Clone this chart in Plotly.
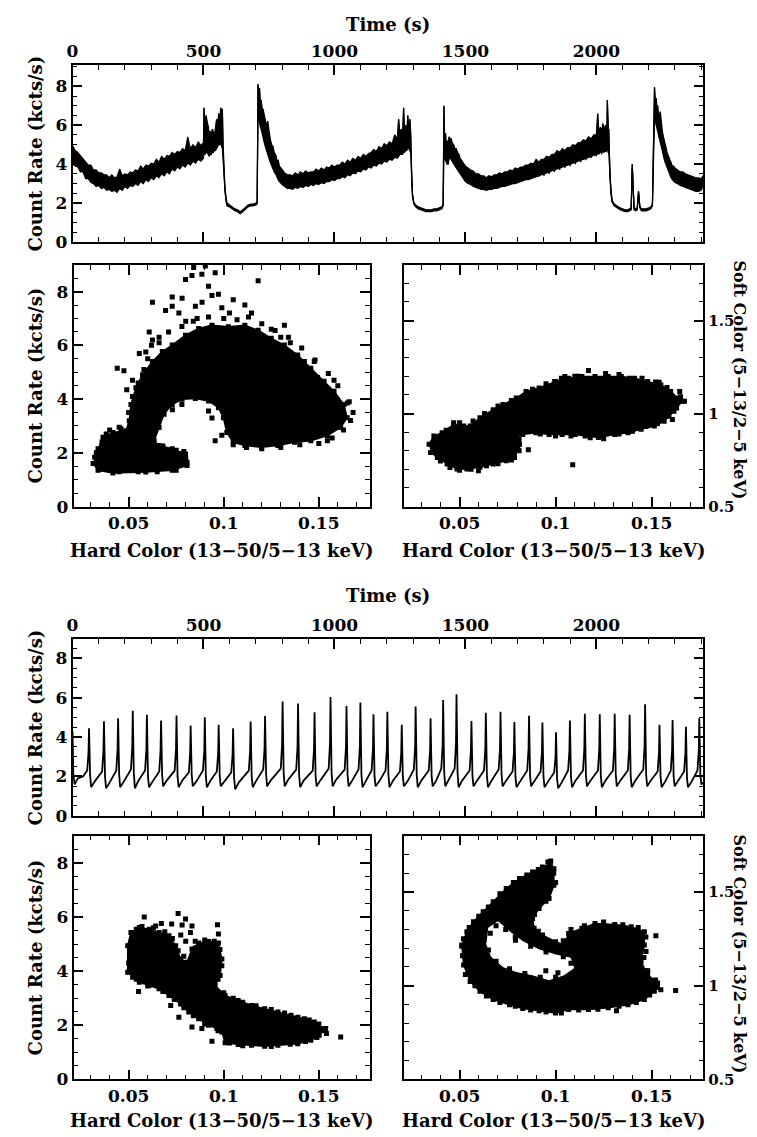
import plotly.graph_objects as go

W, H = 757, 1137
FONT = "DejaVu Serif"

# ---------------- top light curve (time s, count rate kcts/s) ----------------
lc1_time = [
    0, 10, 20, 30, 40, 50, 60, 70, 80, 90, 100, 110, 120, 130, 140, 150, 160, 170, 180, 190,
    200, 210, 220, 230, 240, 250, 260, 270, 280, 290, 300, 310, 320, 330, 340, 350, 360, 370, 380, 390,
    400, 410, 420, 430, 440, 450, 460, 470, 480, 490, 500,
    502, 506, 510, 514, 518, 522, 526, 530, 534, 538, 542, 546, 550, 554, 558, 562, 566, 569, 572, 575,
    578, 582, 586, 590, 600, 610, 620, 630, 640, 650, 660, 670, 680, 690, 700, 705,
    708, 711, 714, 717, 720, 724, 728, 732, 736, 740, 745, 750, 755, 760, 765, 770, 775, 780, 785, 790,
    795, 800, 805, 810, 815, 820,
    830, 840, 850, 860, 870, 880, 890, 900, 910, 920, 930, 940, 950, 960,
    970, 980, 990, 1000, 1010, 1020, 1030, 1040, 1050, 1060, 1070, 1080, 1090, 1100, 1110, 1120, 1130, 1140, 1150, 1160,
    1170, 1180, 1190, 1200, 1210, 1220, 1230, 1240,
    1245, 1250, 1255, 1260, 1264, 1268, 1272, 1276, 1280, 1284, 1288, 1292,
    1295, 1298, 1303, 1310, 1320, 1330, 1340, 1350, 1360, 1370, 1380, 1390, 1400, 1410, 1415,
    1418, 1421, 1424, 1427, 1430, 1434, 1438, 1442, 1446, 1450, 1455, 1460, 1465, 1470, 1475, 1480, 1485, 1490, 1495, 1500,
    1510, 1520, 1530, 1540, 1550, 1560, 1570, 1580, 1590, 1600, 1610, 1620, 1630, 1640, 1650, 1660, 1670, 1680, 1690, 1700,
    1710, 1720, 1730, 1740, 1750, 1760, 1770, 1780, 1790, 1800, 1810, 1820, 1830, 1840, 1850, 1860, 1870, 1880, 1890, 1900,
    1910, 1920, 1930, 1940, 1950, 1960, 1970, 1980, 1990, 2000,
    2005, 2010, 2015, 2020, 2025, 2030, 2035, 2040, 2042, 2045, 2048,
    2051, 2055, 2060, 2068, 2080, 2090, 2100, 2110, 2120, 2128, 2133, 2137, 2140, 2144, 2150, 2156, 2161, 2166, 2172, 2180,
    2190, 2200, 2208, 2214,
    2218, 2222, 2225, 2228, 2231, 2234, 2237, 2240, 2244, 2248, 2252, 2256, 2260, 2265, 2270, 2275, 2280, 2285, 2290, 2295,
    2300,
    2310, 2320, 2330, 2340, 2350, 2360, 2370, 2380, 2390, 2400, 2408,
]
# individual samples (noisy trace)
lc1_rate = [
    4.9, 4.1, 4.5, 3.7, 4.2, 3.4, 3.9, 3.2, 3.6, 2.95, 3.5, 2.85, 3.4, 2.8, 3.3, 2.7, 3.25, 2.65, 3.6, 2.8,
    3.4, 2.85, 3.5, 2.9, 3.55, 3.0, 3.7, 3.1, 3.8, 3.2, 3.85, 3.3, 4.0, 3.35, 4.2, 3.5, 4.2, 3.7, 4.4, 3.8,
    4.5, 3.9, 4.6, 4.0, 5.3, 4.1, 4.8, 4.25, 5.0, 4.4, 5.0,
    6.9, 4.6, 6.5, 4.7, 6.0, 4.5, 5.6, 4.6, 5.8, 4.7, 5.4, 4.8, 6.3, 5.0, 6.6, 5.2, 6.9, 5.0, 6.8, 4.5,
    3.5, 2.7, 2.2, 1.9, 1.85, 1.75, 1.65, 1.6, 1.5, 1.6, 1.75, 1.85, 1.9, 1.9, 1.95, 2.0,
    8.1, 6.8, 7.9, 6.3, 7.3, 5.9, 6.8, 5.4, 6.3, 5.0, 6.2, 4.7, 5.3, 4.3, 4.9, 4.0, 4.5, 3.7, 4.2, 3.4,
    3.8, 3.1, 3.6, 2.9, 3.4, 2.8,
    3.4, 2.8, 3.4, 2.9, 3.5, 2.9, 3.5, 2.95, 3.5, 3.0, 3.6, 3.0, 3.6, 3.1,
    3.7, 3.15, 3.8, 3.2, 3.85, 3.3, 3.9, 3.35, 4.0, 3.4, 4.1, 3.5, 4.2, 3.6, 4.3, 3.7, 4.4, 3.8, 4.6, 3.95,
    4.8, 4.1, 5.0, 4.2, 5.1, 4.3, 5.5, 4.4,
    6.3, 4.5, 5.8, 4.6, 6.9, 4.7, 6.0, 4.8, 6.5, 4.9, 6.3, 4.8,
    3.2, 2.4, 2.0, 1.85, 1.75, 1.7, 1.65, 1.6, 1.6, 1.6, 1.65, 1.65, 1.7, 1.75, 1.9,
    7.0, 4.6, 5.6, 4.2, 5.2, 4.0, 5.4, 4.5, 5.3, 4.4, 5.0, 4.1, 4.8, 3.9, 4.5, 3.7, 4.2, 3.5, 4.0, 3.3,
    3.8, 3.1, 3.6, 2.9, 3.45, 2.8, 3.35, 2.75, 3.3, 2.8, 3.4, 2.85, 3.45, 2.9, 3.5, 2.95, 3.6, 3.0, 3.7, 3.1,
    3.75, 3.15, 3.8, 3.2, 3.9, 3.3, 4.1, 3.35, 4.0, 3.4, 4.2, 3.5, 4.3, 3.6, 4.5, 3.7, 4.6, 3.8, 4.5, 3.9,
    4.8, 4.0, 4.9, 4.1, 5.0, 4.2, 5.2, 4.3, 5.3, 4.4,
    6.6, 4.5, 5.8, 4.5, 6.0, 4.6, 5.9, 4.6, 7.3, 4.7, 5.8,
    3.5, 2.6, 2.1, 1.9, 1.8, 1.7, 1.65, 1.6, 1.6, 1.65, 1.7, 4.0, 2.5, 1.7, 1.65, 1.7, 2.6, 1.8, 1.65, 1.65,
    1.65, 1.7, 1.75, 1.9,
    5.5, 7.95, 6.8, 7.4, 6.2, 7.0, 5.8, 6.5, 5.5, 6.0, 4.9, 5.4, 4.4, 4.9, 3.9, 4.4, 3.6, 4.1, 3.3, 3.9,
    3.2,
    3.7, 3.0, 3.6, 2.9, 3.4, 2.8, 3.3, 2.7, 3.2, 2.8, 3.2,
]
# upper / lower edge of the noise band at the same times
lc1_high = [
    4.95, 4.7, 4.6, 4.45, 4.3, 4.15, 3.95, 3.95, 3.7, 3.7, 3.55, 3.55, 3.45, 3.45, 3.3, 3.45, 3.3, 3.35, 3.75, 3.4,
    3.5, 3.45, 3.6, 3.55, 3.7, 3.65, 3.9, 3.75, 3.95, 3.9, 4.05, 4.0, 4.25, 4.1, 4.4, 4.25, 4.45, 4.4, 4.6, 4.5,
    4.65, 4.6, 4.8, 4.7, 5.4, 4.8, 5.0, 4.85, 5.15, 4.95, 5.1,
    6.9, 5.8, 6.5, 6.2, 5.9, 5.6, 5.7, 5.5, 5.8, 5.6, 5.5, 5.9, 6.3, 6.0, 6.6, 6.3, 6.9, 6.5, 6.85, 5.0,
    3.6, 2.8, 2.3, 2.0, 1.9, 1.8, 1.7, 1.65, 1.55, 1.65, 1.8, 1.9, 1.95, 1.95, 2.0, 2.05,
    8.1, 7.6, 7.9, 7.2, 7.3, 6.9, 6.8, 6.5, 6.3, 6.0, 6.2, 5.6, 5.3, 5.0, 4.9, 4.6, 4.5, 4.2, 4.2, 3.9,
    3.8, 3.7, 3.6, 3.55, 3.5, 3.45,
    3.45, 3.4, 3.55, 3.45, 3.6, 3.5, 3.65, 3.55, 3.6, 3.6, 3.75, 3.65, 3.8, 3.7,
    3.85, 3.8, 3.95, 3.85, 3.95, 3.95, 4.1, 4.0, 4.2, 4.1, 4.3, 4.2, 4.4, 4.3, 4.5, 4.4, 4.55, 4.6, 4.75, 4.65,
    4.9, 4.8, 5.05, 4.95, 5.15, 5.05, 5.5, 5.3,
    6.3, 5.6, 5.8, 5.5, 6.9, 5.7, 6.0, 5.6, 6.5, 5.8, 6.3, 5.5,
    3.3, 2.5, 2.05, 1.9, 1.8, 1.75, 1.7, 1.65, 1.65, 1.65, 1.7, 1.7, 1.75, 1.8, 1.95,
    7.0, 5.2, 5.6, 5.0, 5.2, 5.1, 5.4, 5.3, 5.3, 5.1, 5.0, 4.8, 4.8, 4.6, 4.5, 4.3, 4.2, 4.1, 4.0, 3.9,
    3.8, 3.7, 3.65, 3.5, 3.5, 3.4, 3.4, 3.3, 3.4, 3.35, 3.45, 3.45, 3.55, 3.5, 3.6, 3.6, 3.7, 3.65, 3.8, 3.75,
    3.85, 3.85, 3.95, 3.95, 4.05, 4.0, 4.25, 4.1, 4.25, 4.25, 4.4, 4.35, 4.5, 4.5, 4.7, 4.6, 4.8, 4.7, 4.85, 4.85,
    5.0, 4.95, 5.1, 5.1, 5.25, 5.2, 5.4, 5.3, 5.5, 5.5,
    6.6, 5.6, 5.9, 5.7, 6.1, 5.8, 6.0, 5.9, 7.3, 6.0, 5.8,
    3.6, 2.7, 2.15, 1.95, 1.85, 1.75, 1.7, 1.65, 1.65, 1.7, 1.75, 4.0, 2.5, 1.75, 1.7, 1.75, 2.6, 1.85, 1.7, 1.7,
    1.7, 1.75, 1.8, 1.95,
    5.5, 7.95, 7.3, 7.4, 7.0, 7.0, 6.6, 6.5, 6.7, 6.1, 5.7, 5.4, 5.1, 4.9, 4.6, 4.4, 4.2, 4.1, 3.9, 3.9,
    3.8,
    3.7, 3.6, 3.6, 3.5, 3.45, 3.4, 3.35, 3.3, 3.3, 3.25, 3.4,
]
lc1_low = [
    4.0, 3.9, 3.85, 3.6, 3.6, 3.25, 3.25, 3.05, 3.0, 2.85, 2.9, 2.75, 2.8, 2.65, 2.7, 2.6, 2.65, 2.55, 2.75, 2.65,
    2.85, 2.75, 2.9, 2.85, 3.0, 2.9, 3.1, 3.0, 3.2, 3.1, 3.3, 3.2, 3.4, 3.3, 3.5, 3.4, 3.6, 3.5, 3.75, 3.65,
    3.85, 3.75, 3.95, 3.85, 4.05, 3.95, 4.15, 4.05, 4.25, 4.15, 4.3,
    4.6, 4.5, 4.6, 4.6, 4.5, 4.4, 4.5, 4.5, 4.6, 4.6, 4.7, 4.7, 4.8, 4.9, 5.0, 5.0, 5.1, 4.9, 4.8, 4.2,
    3.4, 2.6, 2.1, 1.85, 1.8, 1.7, 1.6, 1.55, 1.45, 1.55, 1.7, 1.8, 1.85, 1.85, 1.9, 1.95,
    6.6, 6.3, 6.0, 5.9, 5.8, 5.5, 5.3, 5.1, 4.9, 4.7, 4.5, 4.3, 4.1, 3.9, 3.8, 3.6, 3.5, 3.3, 3.2, 3.1,
    3.0, 2.95, 2.9, 2.85, 2.8, 2.75,
    2.75, 2.7, 2.8, 2.75, 2.85, 2.8, 2.9, 2.85, 2.95, 2.9, 3.0, 2.95, 3.05, 3.0,
    3.1, 3.1, 3.2, 3.15, 3.25, 3.25, 3.35, 3.3, 3.45, 3.4, 3.55, 3.5, 3.65, 3.6, 3.75, 3.7, 3.85, 3.8, 3.95, 3.9,
    4.05, 4.0, 4.15, 4.1, 4.25, 4.2, 4.35, 4.3,
    4.4, 4.5, 4.5, 4.5, 4.6, 4.6, 4.7, 4.7, 4.8, 4.8, 4.7, 4.5,
    3.1, 2.3, 1.95, 1.8, 1.7, 1.65, 1.6, 1.55, 1.55, 1.55, 1.6, 1.6, 1.65, 1.7, 1.85,
    4.5, 4.3, 4.2, 4.1, 4.0, 4.0, 4.3, 4.3, 4.2, 4.1, 4.0, 3.9, 3.8, 3.7, 3.6, 3.5, 3.4, 3.3, 3.2, 3.1,
    3.0, 2.95, 2.85, 2.8, 2.75, 2.7, 2.7, 2.65, 2.7, 2.7, 2.75, 2.75, 2.8, 2.85, 2.85, 2.9, 2.95, 3.0, 3.0, 3.05,
    3.1, 3.15, 3.2, 3.2, 3.25, 3.3, 3.35, 3.4, 3.45, 3.5, 3.55, 3.6, 3.65, 3.7, 3.75, 3.8, 3.85, 3.9, 3.95, 4.0,
    4.05, 4.1, 4.15, 4.2, 4.25, 4.3, 4.35, 4.4, 4.45, 4.5,
    4.5, 4.55, 4.6, 4.6, 4.6, 4.65, 4.65, 4.7, 4.7, 4.7, 4.5,
    3.4, 2.5, 2.05, 1.85, 1.75, 1.65, 1.6, 1.55, 1.55, 1.6, 1.65, 3.8, 2.3, 1.65, 1.6, 1.65, 2.5, 1.75, 1.6, 1.6,
    1.6, 1.65, 1.7, 1.85,
    5.0, 6.3, 6.2, 6.0, 5.9, 5.7, 5.5, 5.3, 5.1, 4.9, 4.6, 4.4, 4.2, 4.0, 3.8, 3.6, 3.5, 3.3, 3.2, 3.1,
    3.05,
    3.0, 2.9, 2.85, 2.8, 2.75, 2.7, 2.65, 2.6, 2.6, 2.65, 2.9,
]

# ---------------- bottom light curve ----------------
lc2_time = [
    0, 3, 8, 20, 40,
    56, 61, 63, 67, 71, 85,
    113, 118, 120, 124, 128, 142,
    167, 172, 174, 178, 182, 196,
    223, 228, 230, 234, 238, 252,
    277, 282, 284, 288, 292, 306,
    331, 336, 338, 342, 346, 360,
    390, 395, 397, 401, 405, 419,
    444, 449, 451, 455, 459, 473,
    498, 503, 505, 509, 513, 527,
    551, 556, 558, 562, 566, 580,
    606, 611, 613, 617, 621, 635,
    673, 678, 680, 684, 688, 702,
    728, 733, 735, 739, 743, 757,
    795, 800, 802, 806, 810, 824,
    854, 859, 861, 865, 869, 883,
    917, 922, 924, 928, 932, 946,
    978, 983, 985, 989, 993, 1007,
    1039, 1044, 1046, 1050, 1054, 1068,
    1092, 1097, 1099, 1103, 1107, 1121,
    1142, 1147, 1149, 1153, 1157, 1171,
    1195, 1200, 1202, 1206, 1210, 1224,
    1250, 1255, 1257, 1261, 1265, 1279,
    1303, 1308, 1310, 1314, 1318, 1332,
    1360, 1365, 1367, 1371, 1375, 1389,
    1408, 1413, 1415, 1419, 1423, 1437,
    1459, 1464, 1466, 1470, 1474, 1488,
    1516, 1521, 1523, 1527, 1531, 1545,
    1571, 1576, 1578, 1582, 1586, 1600,
    1627, 1632, 1634, 1638, 1642, 1656,
    1680, 1685, 1687, 1691, 1695, 1709,
    1736, 1741, 1743, 1747, 1751, 1765,
    1787, 1792, 1794, 1798, 1802, 1816,
    1839, 1844, 1846, 1850, 1854, 1868,
    1892, 1897, 1899, 1903, 1907, 1921,
    1949, 1954, 1956, 1960, 1964, 1978,
    2006, 2011, 2013, 2017, 2021, 2035,
    2063, 2068, 2070, 2074, 2078, 2092,
    2120, 2125, 2127, 2131, 2135, 2149,
    2179, 2184, 2186, 2190, 2194, 2208,
    2234, 2239, 2241, 2245, 2249, 2263,
    2284, 2289, 2291, 2295, 2299, 2313,
    2335, 2340, 2342, 2346, 2350, 2364,
    2386, 2391, 2393, 2397, 2401, 2409,
]
lc2_rate = [
    4.3, 2.1, 1.6, 1.9, 2.0,
    2.3, 3.2, 4.45, 2.1, 1.45, 1.75,
    2.25, 3.3, 4.8, 2.0, 1.4, 1.7,
    2.3, 3.4, 4.96, 2.1, 1.45, 1.75,
    2.35, 3.5, 5.33, 2.2, 1.4, 1.8,
    2.3, 3.4, 5.13, 2.0, 1.45, 1.75,
    2.25, 3.3, 4.84, 2.1, 1.5, 1.8,
    2.3, 3.4, 5.09, 2.0, 1.45, 1.8,
    2.2, 3.2, 4.59, 2.1, 1.5, 1.75,
    2.3, 3.3, 5.0, 2.0, 1.45, 1.8,
    2.25, 3.2, 4.62, 2.0, 1.5, 1.75,
    2.2, 3.1, 4.45, 1.9, 1.35, 1.7,
    2.3, 3.3, 4.79, 2.0, 1.45, 1.8,
    2.35, 3.4, 5.07, 2.1, 1.5, 1.8,
    2.4, 3.6, 5.8, 2.2, 1.5, 1.85,
    2.35, 3.5, 5.7, 2.1, 1.45, 1.8,
    2.3, 3.4, 5.26, 2.0, 1.5, 1.8,
    2.4, 3.7, 6.03, 2.2, 1.5, 1.85,
    2.35, 3.5, 5.58, 2.1, 1.5, 1.8,
    2.35, 3.5, 5.76, 2.1, 1.45, 1.8,
    2.3, 3.4, 5.16, 2.0, 1.5, 1.75,
    2.3, 3.4, 5.29, 2.1, 1.45, 1.8,
    2.25, 3.2, 4.62, 2.0, 1.5, 1.75,
    2.35, 3.5, 5.55, 2.1, 1.45, 1.8,
    2.3, 3.3, 4.96, 2.0, 1.5, 1.8,
    2.4, 3.6, 5.88, 2.2, 1.5, 1.85,
    2.4, 3.7, 6.17, 2.2, 1.45, 1.8,
    2.3, 3.3, 4.82, 2.0, 1.5, 1.8,
    2.3, 3.4, 5.24, 2.1, 1.45, 1.8,
    2.35, 3.4, 5.29, 2.1, 1.5, 1.8,
    2.25, 3.2, 4.76, 2.0, 1.45, 1.75,
    2.3, 3.4, 5.08, 2.0, 1.5, 1.8,
    2.25, 3.2, 4.74, 2.0, 1.45, 1.75,
    2.2, 3.0, 4.24, 1.9, 1.4, 1.7,
    2.3, 3.3, 4.84, 2.0, 1.45, 1.8,
    2.3, 3.4, 5.18, 2.1, 1.5, 1.8,
    2.3, 3.4, 5.16, 2.0, 1.45, 1.8,
    2.3, 3.4, 5.18, 2.1, 1.5, 1.8,
    2.3, 3.4, 5.13, 2.0, 1.45, 1.8,
    2.35, 3.5, 5.66, 2.1, 1.5, 1.8,
    2.25, 3.2, 4.62, 2.0, 1.45, 1.75,
    2.3, 3.3, 4.86, 2.0, 1.5, 1.8,
    2.25, 3.2, 4.52, 1.9, 1.45, 1.75,
    2.3, 3.3, 4.96, 2.1, 1.6, 1.7,
]

# ---------------- top-left: count rate vs hard colour ----------------
cd1_core_hc = [0.0321, 0.0339, 0.0365, 0.0417, 0.0486, 0.0503, 0.0512, 0.0538, 0.0573, 0.0625, 0.0677,
               0.0729, 0.0799, 0.0868, 0.0938, 0.1024, 0.1111, 0.1181, 0.1250, 0.1319, 0.1389, 0.1458,
               0.1528, 0.1580, 0.1632, 0.1649, 0.1615, 0.1545, 0.1458, 0.1372, 0.1285, 0.1198, 0.1111,
               0.1050, 0.1016, 0.0998, 0.0972, 0.0920, 0.0851, 0.0781, 0.0729, 0.0686, 0.0660, 0.0634,
               0.0660, 0.0729, 0.0799, 0.0807, 0.0729, 0.0590, 0.0417, 0.0339, 0.0313]
cd1_core_rate = [1.84, 2.15, 2.58, 2.76, 2.82, 3.19, 3.80, 4.42, 4.91, 5.40, 5.77,
                 6.01, 6.38, 6.63, 6.75, 6.69, 6.75, 6.56, 6.26, 6.01, 5.64, 5.15,
                 4.66, 4.29, 3.80, 3.31, 2.94, 2.64, 2.45, 2.39, 2.27, 2.21, 2.27,
                 2.39, 2.76, 3.31, 3.68, 3.93, 4.02, 3.99, 3.80, 3.44, 2.94, 2.45,
                 2.27, 2.15, 1.96, 1.53, 1.35, 1.29, 1.25, 1.35, 1.60]
cd1_edge_hc = [0.062, 0.066, 0.071, 0.078, 0.084, 0.092, 0.100, 0.107, 0.113, 0.120, 0.127, 0.134, 0.141,
               0.148, 0.155, 0.160, 0.166, 0.168, 0.163, 0.157, 0.150, 0.140, 0.130, 0.120, 0.112, 0.105,
               0.033, 0.036, 0.040, 0.045, 0.035, 0.045, 0.055, 0.065, 0.075, 0.080, 0.079, 0.075,
               0.050, 0.052, 0.055, 0.058, 0.060]
cd1_edge_rate = [6.0, 6.3, 6.5, 6.7, 6.9, 7.05, 7.0, 6.95, 7.05, 6.8, 6.55, 6.3, 5.9,
                 5.45, 4.95, 4.5, 3.9, 3.5, 2.85, 2.55, 2.35, 2.3, 2.2, 2.15, 2.2, 2.3,
                 2.0, 2.4, 2.85, 2.95, 1.4, 1.3, 1.3, 1.3, 1.35, 1.8, 2.05, 2.1,
                 3.5, 4.1, 4.6, 5.1, 5.5]
cd1_pts_hc = [0.0842, 0.0903, 0.0799, 0.0833, 0.0885, 0.0920, 0.0955, 0.1181, 0.0938, 0.0972, 0.1050,
              0.0729, 0.0781, 0.0625, 0.0694, 0.0729, 0.0764, 0.0851, 0.0886, 0.1319, 0.1111, 0.1146,
              0.0608, 0.0440, 0.0475, 0.0490, 0.0556, 0.0590, 0.0660, 0.0625, 0.0920, 0.0938, 0.0955,
              0.0990, 0.0807, 0.1424, 0.1476, 0.1493, 0.1580, 0.1650, 0.1667, 0.1545, 0.0556, 0.0590,
              0.0680, 0.0520, 0.0540, 0.0700, 0.0730, 0.0460, 0.0382, 0.0347, 0.1380, 0.1250, 0.1300,
              0.1350, 0.1030, 0.0990, 0.0860, 0.0800, 0.1580, 0.1610, 0.0780, 0.0575]
cd1_pts_rate = [8.9, 8.95, 8.45, 8.6, 8.65, 8.2, 8.7, 8.4, 7.85, 7.9, 7.7,
                7.8, 7.75, 7.6, 7.3, 7.45, 7.2, 7.45, 7.6, 6.75, 7.5, 7.2,
                6.5, 5.15, 5.05, 4.35, 5.7, 5.75, 6.1, 6.2, 3.56, 3.3, 2.45,
                2.65, 1.65, 5.4, 5.4, 4.8, 4.7, 3.85, 3.2, 2.45, 3.45, 2.9,
                2.25, 4.7, 4.0, 4.3, 3.6, 2.9, 2.7, 1.75, 5.2, 6.6, 6.3,
                6.1, 7.2, 7.4, 7.0, 6.9, 3.0, 3.5, 3.8, 3.0]

# ---------------- top-right: soft colour vs hard colour ----------------
cc1_core_hc = [0.0341, 0.0366, 0.0409, 0.0469, 0.0521, 0.0555, 0.0606, 0.0675, 0.0726, 0.0795, 0.0846,
               0.0914, 0.1000, 0.1068, 0.1137, 0.1205, 0.1274, 0.1342, 0.1411, 0.1479, 0.1548, 0.1599,
               0.1634, 0.1659, 0.1616, 0.1565, 0.1514, 0.1445, 0.1377, 0.1308, 0.1223, 0.1154, 0.1103,
               0.1034, 0.0966, 0.0897, 0.0829, 0.0795, 0.0803, 0.0786, 0.0743, 0.0675, 0.0606, 0.0538,
               0.0486, 0.0435, 0.0384, 0.0349]
cc1_core_sc = [0.835, 0.879, 0.897, 0.941, 0.933, 0.933, 0.977, 1.021, 1.048, 1.083, 1.119,
               1.137, 1.172, 1.190, 1.199, 1.199, 1.199, 1.199, 1.190, 1.172, 1.154, 1.119,
               1.083, 1.066, 1.012, 0.959, 0.933, 0.915, 0.897, 0.888, 0.871, 0.879, 0.888,
               0.888, 0.888, 0.897, 0.888, 0.871, 0.817, 0.764, 0.746, 0.729, 0.711, 0.702,
               0.702, 0.729, 0.764, 0.791]
cc1_edge_hc = [0.036, 0.038, 0.043, 0.050, 0.057, 0.063, 0.070, 0.077, 0.088, 0.095, 0.103, 0.110, 0.126,
               0.133, 0.145, 0.152, 0.158, 0.165, 0.163, 0.159, 0.153, 0.147, 0.140, 0.133, 0.125, 0.118,
               0.108, 0.100, 0.092, 0.081, 0.081, 0.077, 0.070, 0.064, 0.056, 0.050, 0.045, 0.040]
cc1_edge_sc = [0.80, 0.86, 0.91, 0.95, 0.96, 1.00, 1.04, 1.07, 1.13, 1.16, 1.19, 1.20, 1.215,
               1.21, 1.19, 1.17, 1.14, 1.09, 1.03, 0.985, 0.945, 0.93, 0.905, 0.89, 0.865, 0.87,
               0.88, 0.88, 0.89, 0.86, 0.80, 0.75, 0.73, 0.72, 0.70, 0.695, 0.71, 0.745]
cc1_pts_hc = [0.0858, 0.1089, 0.0995, 0.1048, 0.1171, 0.1120, 0.1385, 0.1539, 0.1646, 0.1671, 0.1608,
              0.0812, 0.0786, 0.0598, 0.0469]
cc1_pts_sc = [0.805, 0.725, 1.172, 1.199, 1.232, 1.20, 1.19, 1.168, 1.119, 1.066, 0.968,
              0.835, 0.773, 0.693, 0.950]

# ---------------- bottom-left: count rate vs hard colour ----------------
cd2_core_hc = [0.0495, 0.0495, 0.0512, 0.0556, 0.0608, 0.0660, 0.0712, 0.0747, 0.0773, 0.0807, 0.0833,
               0.0868, 0.0920, 0.0972, 0.0990, 0.0981, 0.0955, 0.1007, 0.1076, 0.1146, 0.1215, 0.1285,
               0.1354, 0.1424, 0.1476, 0.1510, 0.1502, 0.1458, 0.1389, 0.1285, 0.1215, 0.1146, 0.1076,
               0.1007, 0.0990, 0.0964, 0.0920, 0.0868, 0.0816, 0.0773, 0.0712, 0.0660, 0.0608, 0.0556,
               0.0521]
cd2_core_rate = [3.96, 4.94, 5.43, 5.61, 5.55, 5.43, 5.31, 4.94, 4.45, 4.33, 4.82,
                 5.04, 5.09, 5.04, 4.45, 3.84, 3.47, 3.10, 2.92, 2.73, 2.61, 2.49,
                 2.37, 2.24, 2.12, 1.88, 1.63, 1.45, 1.32, 1.26, 1.23, 1.26, 1.29,
                 1.36, 1.75, 1.88, 2.00, 2.24, 2.49, 2.79, 3.10, 3.35, 3.47, 3.59,
                 3.77]
cd2_edge_hc = [0.050, 0.0505, 0.052, 0.054, 0.057, 0.063, 0.069, 0.073, 0.085, 0.090, 0.095, 0.098, 0.099,
               0.097, 0.100, 0.105, 0.110, 0.117, 0.125, 0.132, 0.139, 0.145, 0.150, 0.152, 0.149, 0.143,
               0.135, 0.125, 0.110, 0.103, 0.097, 0.090, 0.084, 0.079, 0.074, 0.068, 0.060, 0.054]
cd2_edge_rate = [4.3, 4.7, 5.2, 5.55, 5.65, 5.6, 5.45, 5.2, 5.1, 5.15, 5.1, 4.8, 4.2,
                 3.7, 3.2, 3.0, 2.85, 2.72, 2.58, 2.45, 2.3, 2.2, 2.05, 1.8, 1.55, 1.4,
                 1.3, 1.22, 1.25, 1.35, 1.8, 2.05, 2.35, 2.65, 2.95, 3.25, 3.45, 3.7]
cd2_pts_hc = [0.0503, 0.0552, 0.0582, 0.0642, 0.0672, 0.0726, 0.0760, 0.0799, 0.0781, 0.0833, 0.0825,
              0.0774, 0.0967, 0.0972, 0.0721, 0.0764, 0.0833, 0.0885, 0.0938, 0.1536, 0.1540, 0.1615,
              0.0800, 0.0850, 0.0760, 0.0790]
cd2_pts_rate = [3.96, 3.25, 6.0, 5.67, 5.76, 5.74, 6.13, 5.92, 5.70, 5.67, 5.43,
                5.33, 5.71, 5.37, 2.73, 2.30, 1.94, 1.88, 1.41, 1.88, 1.70, 1.57,
                5.1, 4.85, 4.75, 4.55]

# ---------------- bottom-right: soft colour vs hard colour ----------------
cc2_core_hc = [0.0974, 0.0991, 0.0991, 0.0966, 0.0914, 0.0880, 0.0888, 0.0932, 0.1000, 0.1043, 0.1068,
               0.1137, 0.1205, 0.1308, 0.1394, 0.1462, 0.1462, 0.1445, 0.1479, 0.1531, 0.1514, 0.1462,
               0.1377, 0.1274, 0.1171, 0.1068, 0.1000, 0.0914, 0.0829, 0.0760, 0.0675, 0.0606, 0.0555,
               0.0521, 0.0512, 0.0538, 0.0572, 0.0623, 0.0675, 0.0743, 0.0812, 0.0880, 0.0931]
cc2_core_sc = [1.659, 1.624, 1.535, 1.465, 1.412, 1.359, 1.306, 1.270, 1.235, 1.217, 1.279,
               1.306, 1.332, 1.327, 1.314, 1.288, 1.217, 1.129, 1.058, 1.014, 0.970, 0.926,
               0.899, 0.882, 0.873, 0.873, 0.855, 0.867, 0.878, 0.899, 0.926, 0.970, 1.023,
               1.111, 1.217, 1.288, 1.341, 1.394, 1.447, 1.518, 1.571, 1.606, 1.633]
cc2_hole_hc = [0.0649, 0.0700, 0.0760, 0.0829, 0.0914, 0.1000, 0.1077, 0.1094, 0.1043, 0.0966, 0.0880,
               0.0795, 0.0726, 0.0666, 0.0640]
cc2_hole_sc = [1.306, 1.341, 1.288, 1.235, 1.191, 1.164, 1.147, 1.094, 1.058, 1.032, 1.058,
               1.076, 1.102, 1.155, 1.226]
cc2_edge_hc = [0.096, 0.099, 0.100, 0.095, 0.089, 0.087, 0.091, 0.104, 0.108, 0.115, 0.125, 0.135, 0.143,
               0.147, 0.146, 0.148, 0.152, 0.153, 0.149, 0.142, 0.133, 0.122, 0.112, 0.103, 0.095, 0.087,
               0.079, 0.071, 0.064, 0.058, 0.053, 0.0515, 0.052, 0.055, 0.060, 0.065, 0.071, 0.078, 0.085,
               0.091,
               0.066, 0.069, 0.079, 0.087, 0.095, 0.104, 0.108, 0.100, 0.092, 0.084, 0.076, 0.069, 0.065]
cc2_edge_sc = [1.66, 1.60, 1.55, 1.45, 1.38, 1.33, 1.29, 1.24, 1.30, 1.32, 1.34, 1.325, 1.31,
               1.26, 1.15, 1.08, 1.03, 0.99, 0.95, 0.91, 0.89, 0.875, 0.87, 0.855, 0.86, 0.87,
               0.89, 0.91, 0.945, 1.00, 1.06, 1.16, 1.25, 1.31, 1.37, 1.42, 1.49, 1.55, 1.59,
               1.62,
               1.28, 1.32, 1.26, 1.21, 1.18, 1.155, 1.12, 1.045, 1.045, 1.065, 1.09, 1.13, 1.19]
cc2_pts_hc = [0.1522, 0.1471, 0.1471, 0.1548, 0.1625, 0.1317, 0.0791, 0.0949, 0.1012, 0.0512, 0.0974,
              0.0740]
cc2_pts_sc = [1.267, 1.182, 1.080, 0.979, 0.975, 0.867, 1.242, 1.080, 1.069, 1.21, 1.665,
              1.30]


# ---------------- figure ----------------
def xd(a, b):
    return [a / W, b / W]


def yd(top, bottom):
    return [1 - bottom / H, 1 - top / H]


fig = go.Figure()
SQ = dict(symbol="square", size=5, color="black", line=dict(width=0))


def core(x, y, xa, ya, color="black"):
    fig.add_trace(go.Scatter(x=x, y=y, xaxis=xa, yaxis=ya, mode="lines+markers", fill="toself",
                             fillcolor=color, line=dict(color=color, width=1.5),
                             marker=dict(symbol="square", size=5, color=color), hoverinfo="skip"))


def pts(x, y, xa, ya):
    fig.add_trace(go.Scatter(x=x, y=y, xaxis=xa, yaxis=ya, mode="markers", marker=SQ, hoverinfo="skip"))


# top light curve: noise band + individual samples
fig.add_trace(go.Scatter(x=lc1_time, y=lc1_low, xaxis="x", yaxis="y", mode="lines",
                         line=dict(color="black", width=1.2), hoverinfo="skip"))
fig.add_trace(go.Scatter(x=lc1_time, y=lc1_high, xaxis="x", yaxis="y", mode="lines", fill="tonexty",
                         fillcolor="black", line=dict(color="black", width=1.2), hoverinfo="skip"))
fig.add_trace(go.Scatter(x=lc1_time, y=lc1_rate, xaxis="x", yaxis="y", mode="lines",
                         line=dict(color="black", width=1.2)))

core(cd1_core_hc, cd1_core_rate, "x2", "y2")
pts(cd1_edge_hc, cd1_edge_rate, "x2", "y2")
pts(cd1_pts_hc, cd1_pts_rate, "x2", "y2")

core(cc1_core_hc, cc1_core_sc, "x3", "y3")
pts(cc1_edge_hc, cc1_edge_sc, "x3", "y3")
pts(cc1_pts_hc, cc1_pts_sc, "x3", "y3")

fig.add_trace(go.Scatter(x=lc2_time, y=lc2_rate, xaxis="x4", yaxis="y4", mode="lines",
                         line=dict(color="black", width=1.8)))

core(cd2_core_hc, cd2_core_rate, "x5", "y5")
pts(cd2_edge_hc, cd2_edge_rate, "x5", "y5")
pts(cd2_pts_hc, cd2_pts_rate, "x5", "y5")

core(cc2_core_hc, cc2_core_sc, "x6", "y6")
fig.add_trace(go.Scatter(x=cc2_hole_hc, y=cc2_hole_sc, xaxis="x6", yaxis="y6", mode="lines", fill="toself",
                         fillcolor="white", line=dict(color="white", width=1), hoverinfo="skip"))
pts(cc2_edge_hc, cc2_edge_sc, "x6", "y6")
pts(cc2_pts_hc, cc2_pts_sc, "x6", "y6")

tickfont = dict(family=FONT, size=17, color="black", weight="bold")
tickfont_r = dict(family=FONT, size=15, color="black", weight="bold")


def axis(dom, rng, anchor, dtick, mdtick, tick0=0, side=None, **kw):
    d = dict(domain=dom, range=rng, anchor=anchor, showline=True, linecolor="black", linewidth=1.6,
             mirror="allticks", ticks="inside", ticklen=10, tickwidth=1.5, tickcolor="black",
             showgrid=False, zeroline=False, tickmode="linear", tick0=tick0, dtick=dtick,
             tickfont=tickfont,
             minor=dict(ticks="inside", ticklen=5, tickwidth=1.2, tickcolor="black",
                        tickmode="linear", tick0=tick0, dtick=mdtick, showgrid=False))
    if side:
        d["side"] = side
    d.update(kw)
    return d


LX = xd(59, 695)
SLX = xd(60, 359)
SRX = xd(393, 695)
HC_RANGE = [0.021, 0.177]

fig.update_layout(
    width=W, height=H, margin=dict(l=0, r=0, t=0, b=0),
    paper_bgcolor="white", plot_bgcolor="white", showlegend=False,
    xaxis=axis(LX, [0, 2409], "y", 500, 100, side="top"),
    yaxis=axis(yd(58, 236), [0, 9.07], "x", 2, 0.5),
    xaxis2=axis(SLX, HC_RANGE, "y2", 0.05, 0.01),
    yaxis2=axis(yd(259, 503), [0, 9.0], "x2", 2, 0.5),
    xaxis3=axis(SRX, HC_RANGE, "y3", 0.05, 0.01),
    yaxis3=axis(yd(259, 503), [0.5, 1.8], "x3", 0.5, 0.1, tick0=0.5, side="right", tickfont=tickfont_r),
    xaxis4=axis(LX, [0, 2409], "y4", 500, 100, side="top"),
    yaxis4=axis(yd(637, 815), [0, 8.96], "x4", 2, 0.5),
    xaxis5=axis(SLX, HC_RANGE, "y5", 0.05, 0.01),
    yaxis5=axis(yd(835, 1081), [0, 9.0], "x5", 2, 0.5),
    xaxis6=axis(SRX, HC_RANGE, "y6", 0.05, 0.01),
    yaxis6=axis(yd(835, 1081), [0.5, 1.8], "x6", 0.5, 0.1, tick0=0.5, side="right", tickfont=tickfont_r),
)

ann = []


def label(text, px, py, angle=0, size=18):
    ann.append(dict(text=text, x=px / W, y=1 - py / H, xref="paper", yref="paper", showarrow=False,
                    xanchor="center", yanchor="middle", textangle=angle,
                    font=dict(family=FONT, size=size, color="black", weight="bold")))


label("Time (s)", 377, 17)
label("Time (s)", 377, 593)
label("Count Rate (kcts/s)", 22, 147, -90)
label("Count Rate (kcts/s)", 22, 381, -90)
label("Count Rate (kcts/s)", 22, 726, -90)
label("Count Rate (kcts/s)", 22, 958, -90)
label("Hard Color (13\u221250/5\u221213 keV)", 210, 547)
label("Hard Color (13\u221250/5\u221213 keV)", 544, 547)
label("Hard Color (13\u221250/5\u221213 keV)", 210, 1122)
label("Hard Color (13\u221250/5\u221213 keV)", 544, 1122)
label("Soft Color (5\u221213/2\u22125 keV)", 731, 375, 90, 16)
label("Soft Color (5\u221213/2\u22125 keV)", 731, 954, 90, 16)
fig.update_layout(annotations=ann)

fig.write_html("out.html")
